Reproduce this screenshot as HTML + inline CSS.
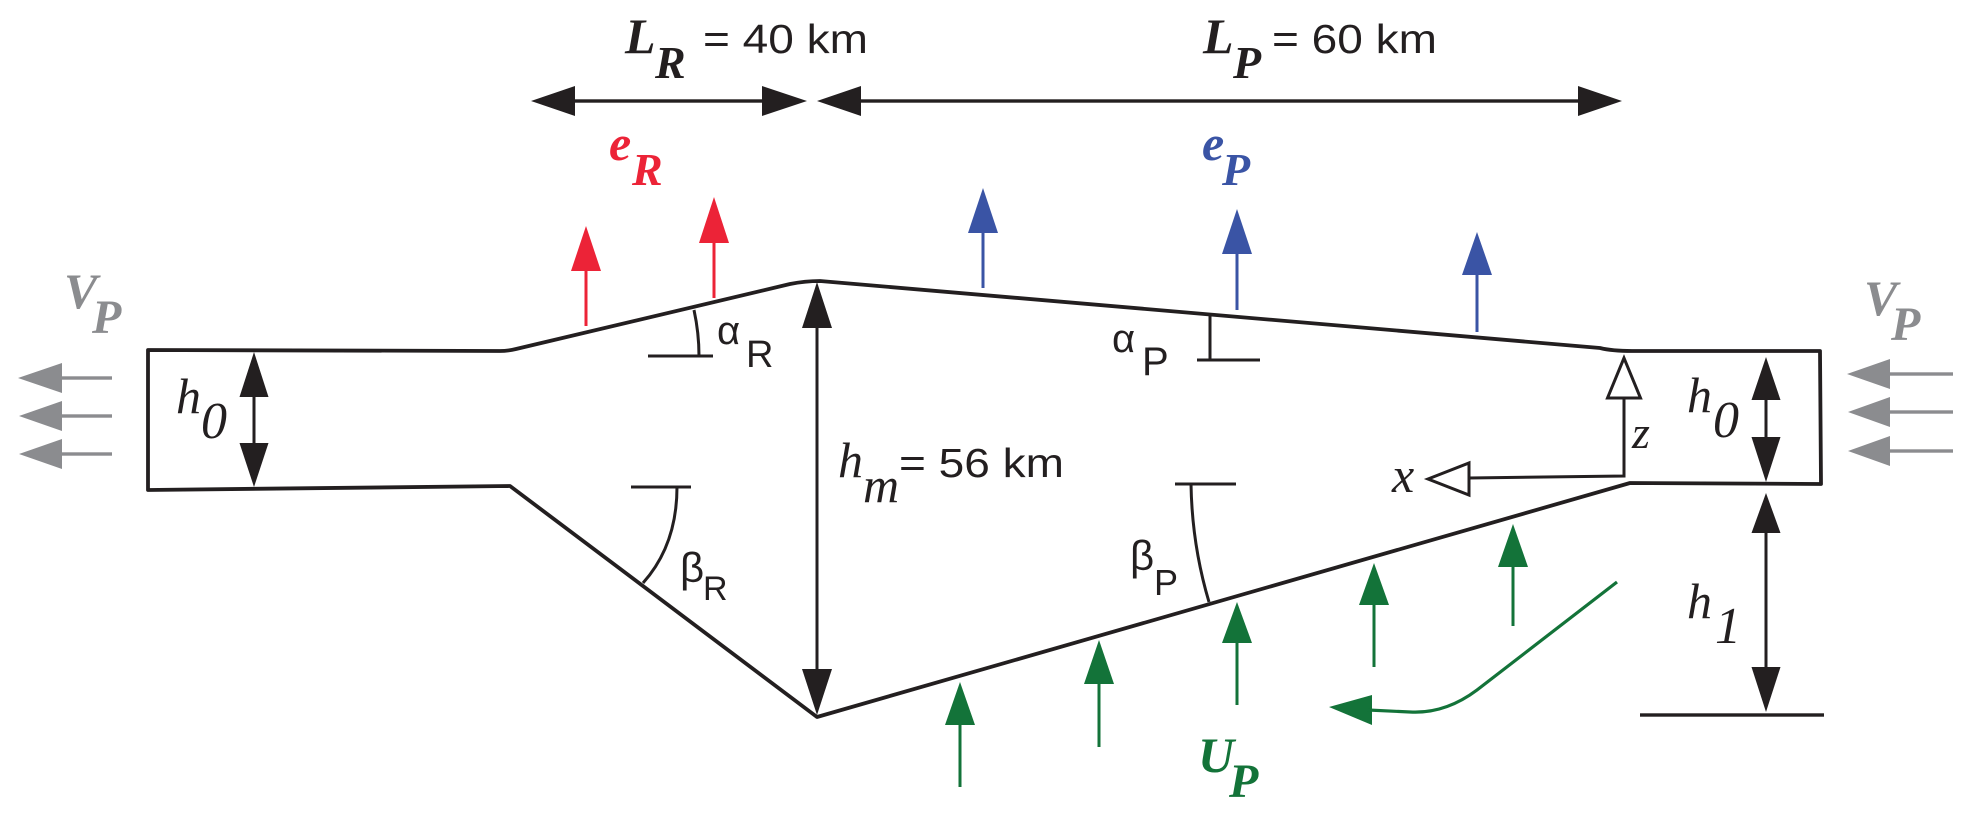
<!DOCTYPE html>
<html><head><meta charset="utf-8"><style>
html,body{margin:0;padding:0;background:#fff;}
svg{display:block;}
.bi{font-family:"Liberation Serif",serif;font-weight:bold;font-style:italic;}
.it{font-family:"Liberation Serif",serif;font-style:italic;}
.sn{font-family:"Liberation Sans",sans-serif;}
</style></head><body>
<svg width="1972" height="814" viewBox="0 0 1972 814" xmlns="http://www.w3.org/2000/svg">
<!-- main outline -->
<path d="M148,350 L500,351 Q508,351 516,349 L790,284 Q805,281 820,281 L1600,348 Q1612,351 1632,351 L1820,351 L1821,484 L1630,483 L817,717 L510,486 L148,490 Z" fill="none" stroke="#231f20" stroke-width="3.8" stroke-linejoin="round"/>

<!-- top dimension arrows -->
<g fill="#231f20" stroke="none">
<rect x="560" y="99.3" width="215" height="3.4"/>
<polygon points="531,101 575,86 575,116"/>
<polygon points="807,101 762,86 762,116"/>
<rect x="850" y="99.3" width="740" height="3.4"/>
<polygon points="817,101 861,86 861,116"/>
<polygon points="1622,101 1578,86 1578,116"/>
</g>

<!-- h_m arrow -->
<g fill="#231f20">
<rect x="815.5" y="320" width="3" height="355"/>
<polygon points="817,282 802,328 832,328"/>
<polygon points="817,715 802,669 832,669"/>
<!-- h0 left -->
<rect x="252.5" y="392" width="3" height="56"/>
<polygon points="254,352 239.5,397 268.5,397"/>
<polygon points="254,487 239.5,443 268.5,443"/>
<!-- h0 right -->
<rect x="1764.5" y="395" width="3" height="46"/>
<polygon points="1766,357 1751.5,400 1780.5,400"/>
<polygon points="1766,482 1751.5,437 1780.5,437"/>
<!-- h1 -->
<rect x="1764.5" y="528" width="3" height="144"/>
<polygon points="1766,493 1751.5,533 1780.5,533"/>
<polygon points="1766,712 1751.5,667 1780.5,667"/>
<rect x="1640" y="713.3" width="184" height="3.4"/>
</g>

<!-- angle marks -->
<g fill="none" stroke="#231f20" stroke-width="3">
<path d="M694,310 Q699,333 699,356"/>
<line x1="648" y1="356" x2="713" y2="356"/>
<line x1="631" y1="487" x2="691" y2="487"/>
<path d="M677,487 Q677,545 643,583"/>
<line x1="1210" y1="315" x2="1210" y2="360"/>
<line x1="1197" y1="360" x2="1260" y2="360"/>
<line x1="1175" y1="484" x2="1236" y2="484"/>
<path d="M1191,484 Q1192,545 1209,602"/>
<!-- axes -->
<polyline points="1624,398 1624,476 1469,478"/>
<polygon points="1624,358 1607.5,398 1640.5,398" fill="#fff"/>
<polygon points="1428,479 1469,463 1469,495" fill="#fff"/>
</g>

<!-- gray arrows -->
<g fill="#8b8c8f">
<rect x="60" y="376.3" width="52" height="3.4"/><polygon points="18,378 62,363 62,393"/>
<rect x="60" y="414.3" width="52" height="3.4"/><polygon points="19,416 62,401 62,431"/>
<rect x="60" y="452.3" width="52" height="3.4"/><polygon points="19,454 62,439 62,469"/>
<rect x="1888" y="372.3" width="65" height="3.4"/><polygon points="1847,374 1890,359 1890,389"/>
<rect x="1888" y="410.3" width="65" height="3.4"/><polygon points="1848,412 1890,397 1890,427"/>
<rect x="1888" y="449.3" width="65" height="3.4"/><polygon points="1848,451 1890,436 1890,466"/>
</g>

<!-- red arrows -->
<g fill="#ec2337">
<rect x="584.5" y="268" width="3" height="58"/><polygon points="586,226 571,271 601,271"/>
<rect x="712.5" y="240" width="3" height="58"/><polygon points="714,197 699,243 729,243"/>
</g>
<!-- blue arrows -->
<g fill="#3a54a5">
<rect x="981.5" y="230" width="3" height="58"/><polygon points="983,188 968,233 998,233"/>
<rect x="1235.5" y="251" width="3" height="59"/><polygon points="1237,209 1222,254 1252,254"/>
<rect x="1475.5" y="272" width="3" height="60"/><polygon points="1477,232 1462,275 1492,275"/>
</g>
<!-- green arrows -->
<g fill="#137339">
<rect x="958.5" y="722" width="3" height="65"/><polygon points="960,682 945,725 975,725"/>
<rect x="1097.5" y="681" width="3" height="66"/><polygon points="1099,640 1084,684 1114,684"/>
<rect x="1235.5" y="640" width="3" height="65"/><polygon points="1237,602 1222,643 1252,643"/>
<rect x="1372.5" y="602" width="3" height="65"/><polygon points="1374,563 1359,605 1389,605"/>
<rect x="1511.5" y="564" width="3" height="62"/><polygon points="1513,524 1498,567 1528,567"/>
<polygon points="1329,707 1372,695 1372,725"/>
</g>
<path d="M1617,582 L1477,690 Q1445,714 1410,712 L1368,710" fill="none" stroke="#137339" stroke-width="3.2"/>

<!-- labels -->
<g fill="#231f20">
<text class="bi" x="625" y="53" font-size="50">L</text>
<text class="bi" x="655" y="78" font-size="46">R</text>
<text class="sn" x="703" y="53" font-size="41" textLength="165" lengthAdjust="spacingAndGlyphs">= 40 km</text>
<text class="bi" x="1203" y="53" font-size="50">L</text>
<text class="bi" x="1233" y="78" font-size="46">P</text>
<text class="sn" x="1272" y="53" font-size="41" textLength="165" lengthAdjust="spacingAndGlyphs">= 60 km</text>

<text class="it" x="176" y="413" font-size="50">h</text>
<text class="it" x="201" y="438" font-size="52">0</text>
<text class="it" x="1687" y="412" font-size="50">h</text>
<text class="it" x="1713" y="437" font-size="52">0</text>
<text class="it" x="1687" y="618" font-size="50">h</text>
<text class="it" x="1715" y="643" font-size="52">1</text>
<text class="it" x="838" y="477" font-size="50">h</text>
<text class="it" x="863" y="502" font-size="50">m</text>
<text class="sn" x="899" y="477" font-size="41" textLength="165" lengthAdjust="spacingAndGlyphs">= 56 km</text>

<text class="it" x="1392" y="492" font-size="50">x</text>
<text class="it" x="1632" y="448" font-size="46">z</text>

<text class="sn" x="717" y="344" font-size="40">α</text>
<text class="sn" x="746" y="367" font-size="38">R</text>
<text class="sn" x="1112" y="352" font-size="40">α</text>
<text class="sn" x="1142" y="375" font-size="40">P</text>
<text class="sn" x="680" y="582" font-size="42">β</text>
<text class="sn" x="703" y="600" font-size="34">R</text>
<text class="sn" x="1130" y="570" font-size="42">β</text>
<text class="sn" x="1154" y="595" font-size="36">P</text>
</g>

<g fill="#ec2337">
<text class="bi" x="609" y="160" font-size="50">e</text>
<text class="bi" x="632" y="185" font-size="46">R</text>
</g>
<g fill="#3a54a5">
<text class="bi" x="1202" y="160" font-size="50">e</text>
<text class="bi" x="1222" y="185" font-size="46">P</text>
</g>
<g fill="#137339">
<text class="bi" x="1198" y="772" font-size="50">U</text>
<text class="bi" x="1229" y="797" font-size="48">P</text>
</g>
<g fill="#8b8c8f">
<text class="bi" x="64" y="308" font-size="50">V</text>
<text class="bi" x="92" y="333" font-size="48">P</text>
<text class="bi" x="1864" y="315" font-size="50">V</text>
<text class="bi" x="1891" y="340" font-size="48">P</text>
</g>
</svg>
</body></html>
